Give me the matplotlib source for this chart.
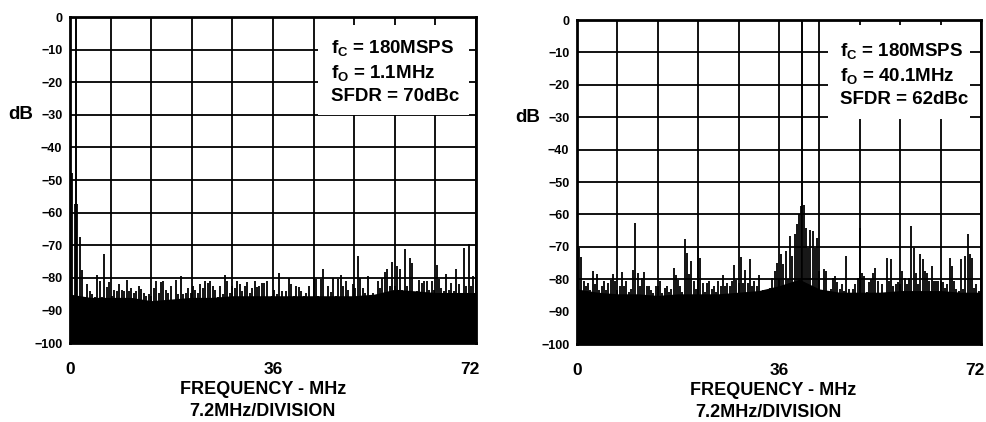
import numpy as np
import matplotlib.pyplot as plt
import matplotlib.transforms as mtransforms
from matplotlib.patches import Rectangle

plt.rcParams['font.family'] = ['Liberation Sans', 'DejaVu Sans']
plt.rcParams['font.weight'] = 'bold'
plt.rcParams['mathtext.fontset'] = 'custom'
plt.rcParams['mathtext.rm'] = 'Liberation Sans:bold'
plt.rcParams['mathtext.it'] = 'Liberation Sans:bold'
plt.rcParams['mathtext.bf'] = 'Liberation Sans:bold'

# spectrum peaks in dB, evenly spread over 0..72 MHz
left_db = [-88, -48, -57.5, -57.5, -67.5, -77.5,
           -86, -81.8, -84, -85, -86, -79, -81, -86, -72.6, -82.8,
           -81.3, -85.7, -83.6, -84, -82, -83.6, -84, -80.7, -84, -83,
           -84.6, -84, -82.6, -83.4, -84.6, -85.7, -85, -85.7, -83, -81,
           -84.6, -81.3, -81, -83.6, -84.6, -82.6, -87, -80.7, -85, -79.5,
           -85, -84.6, -83, -84.6, -82.4, -83.6, -84.6, -82, -83, -81,
           -81.5, -81, -82.6, -83.6, -86, -82.4, -85, -79, -81, -84.6,
           -82.4, -83, -81, -82, -84, -82.6, -81.3, -84.6, -83, -81,
           -82.8, -82.6, -81.5, -81.5, -81, -86, -85.7, -83.6, -85, -78.5,
           -84, -86, -84, -80, -81.8, -85.7, -82.6, -82.8, -84, -85.7,
           -84.6, -82.6, -86.7, -79.7, -80.5, -85.7, -80.3, -77.4, -86, -82.6,
           -84.5, -80, -85.7, -80.5, -79,
           -82.6, -81, -83.8, -86, -82, -83, -73.3, -80, -83, -84.6,
           -79.5, -86, -84.6, -86, -81, -83, -80, -78.2, -77.2, -82.6,
           -75.2, -82.4, -76.4, -77.4, -83.6, -71.2, -82.6, -74, -75.6, -86.7,
           -84, -80.7, -81.5, -81, -81, -83.6, -81, -83.6, -76.2, -80.5,
           -83, -84, -78.7, -83.6, -81.5, -84, -77.2, -82, -86, -71,
           -82.4, -69.7, -82.6, -79.5, -80]
right_db = [-60.3, -70.3, -73, -80.7, -82.2, -81.2, -83.3, -77.6, -81.4, -78.3,
            -83.3, -82.2, -80.7, -83.3, -81.2, -80.2, -78.3, -80.7, -83.3, -82.2,
            -77.9, -82.2, -80.7, -83.8, -83, -77.3, -62.8, -78.1, -82.2, -79.6,
            -77.9, -82.2, -82.2, -83.3, -84.3, -82.2, -82.2, -80.7, -84.3, -82.7,
            -82.2, -83.8, -83, -76.5, -78.7, -80.2, -82.2, -83.8, -67.5, -71.9,
            -78.3, -74.5, -80.4, -83, -70.3, -73.4, -81.2, -84, -81.2, -80.7,
            -83, -82.2, -84, -80.7, -82.2, -78.7, -82.2, -81.2, -82.2, -80.7,
            -75.5, -80.2, -81.2, -73.1, -81.2, -77.1, -81.2, -73.8, -82.2, -80.7,
            -82.2, -78.7, -84, -83.3, -83.5, -83.3, -82.7, -79.6, -77.6, -74.9,
            -80,
            -72.3, -75.4, -71.3, -80, -66.7, -72.8, -66.2, -63, -60, -57.4,
            -57, -64.1, -70.3, -64.9, -65.1, -70.3, -67.2, -77.4, -83.6, -76.9,
            -77.4, -83.6, -83.1, -79.5, -79, -81, -83.1, -81.5, -83.6, -72.8,
            -83.1, -86.2, -83.1, -81.5, -79.5, -64.1, -78, -79, -84.1, -81,
            -80, -78, -76.4, -80.5, -84.6, -81.5, -86.2, -73.3, -80.5, -73.8,
            -82, -81.5, -81, -81.5, -77.4, -79.5, -81.5, -79.5, -63.6, -70.3,
            -78, -81.5, -72.3, -73.8, -77.4, -78, -80.5, -75.9, -80.5, -80.5,
            -80.5, -80.5, -81, -82.6, -81.5, -73.3, -75.9, -80.5, -83.1, -83.6,
            -73.8, -83.1, -72.8, -66.2, -72.3, -73.3, -82.6, -81.5, -83.6, -81.5]

# solid noise floor, one value every 3.6 MHz
left_floor = [-85, -86, -86, -86, -87, -86.5, -86, -86, -85.5, -85.5, -85.5,
              -85.5, -85.5, -85.5, -85.5, -85, -83.5, -84, -84.5, -84.5, -84.5]
right_floor = [-83, -84, -84.5, -84.5, -85, -84.5, -84.5, -84.5, -84, -83.5, -82,
               -80, -83, -84, -84, -84, -83.5, -83.5, -83.5, -84, -84]

# fundamental tone (MHz, dB)
left_tone = (1.1, 0)
right_tone = (40.1, 0)

left_info = [r'$f_C$ = 180MSPS', r'$f_O$ = 1.1MHz', 'SFDR = 70dBc']
right_info = [r'$f_C$ = 180MSPS', r'$f_O$ = 40.1MHz', 'SFDR = 62dBc']

xtick_labels = ['0', '', '', '', '', '36', '', '', '', '', '72']


def spectrum_panel(ax, spec, floor, tone, info, box, text_x, lab_x):
    f = np.linspace(0, 72, len(spec))
    ff = np.linspace(0, 72, len(floor))
    ax.fill_between(ff, -100, floor, color='black', lw=0, zorder=2)
    ax.vlines(f, -100, spec, color='black', lw=1.3, zorder=2)
    ax.vlines(tone[0], -100, tone[1], color='black', lw=1.4, zorder=2)

    ax.set_xlim(0, 72)
    ax.set_ylim(-100, 0)
    ax.set_xticks(np.linspace(0, 72, 11))
    ax.set_xticklabels(xtick_labels)
    ax.set_xticks([36], minor=True)
    ax.set_yticks(np.arange(-100, 1, 10))
    ax.set_axisbelow(True)
    ax.grid(True, which='major', color='black', lw=1.3)
    ax.tick_params(axis='x', which='major', length=0, pad=13.5, labelsize=12.5)
    ax.tick_params(axis='x', which='minor', length=10.8, width=1.4)
    ax.tick_params(axis='y', length=0, pad=5.5, labelsize=9)
    for s in ax.spines.values():
        s.set_linewidth(2)
        s.set_zorder(5)

    # the "72" label sits a little left of its grid line
    last = ax.get_xticklabels()[-1]
    last.set_transform(last.get_transform() +
                       mtransforms.ScaledTranslation(-0.06, 0, fig.dpi_scale_trans))

    # white panel behind the settings text
    ax.add_patch(Rectangle((box[0], box[1]), box[2] - box[0], box[3] - box[1],
                           transform=ax.transAxes, facecolor='white',
                           edgecolor='none', zorder=3))
    for txt, yy in zip(info, [0.889, 0.812, 0.742]):
        ax.text(text_x, yy, txt, transform=ax.transAxes, fontsize=13.5,
                fontweight='bold', va='baseline', ha='left', zorder=4)

    trans = mtransforms.blended_transform_factory(ax.transAxes, ax.transData)
    ax.text(-0.122, -30, 'dB', transform=trans, fontsize=13.5, fontweight='bold',
            ha='center', va='center')
    ax.text(lab_x[0], -0.156, 'FREQUENCY - MHz', transform=ax.transAxes,
            fontsize=13, fontweight='bold', ha='center', va='baseline')
    ax.text(lab_x[1], -0.225, '7.2MHz/DIVISION', transform=ax.transAxes,
            fontsize=13, fontweight='bold', ha='center', va='baseline')


fig = plt.figure(figsize=(9.87, 4.22), dpi=100)
ax1 = fig.add_axes([0.0709, 0.1872, 0.4113, 0.7725])
ax2 = fig.add_axes([0.5846, 0.1848, 0.4093, 0.7678])

spectrum_panel(ax1, left_db, left_floor, left_tone, left_info,
               (0.611, 0.698, 0.982, 0.975), 0.643, (0.475, 0.475))
spectrum_panel(ax2, right_db, right_floor, right_tone, right_info,
               (0.621, 0.696, 0.972, 0.985), 0.651, (0.485, 0.473))

fig.savefig('out.png', dpi=100)
